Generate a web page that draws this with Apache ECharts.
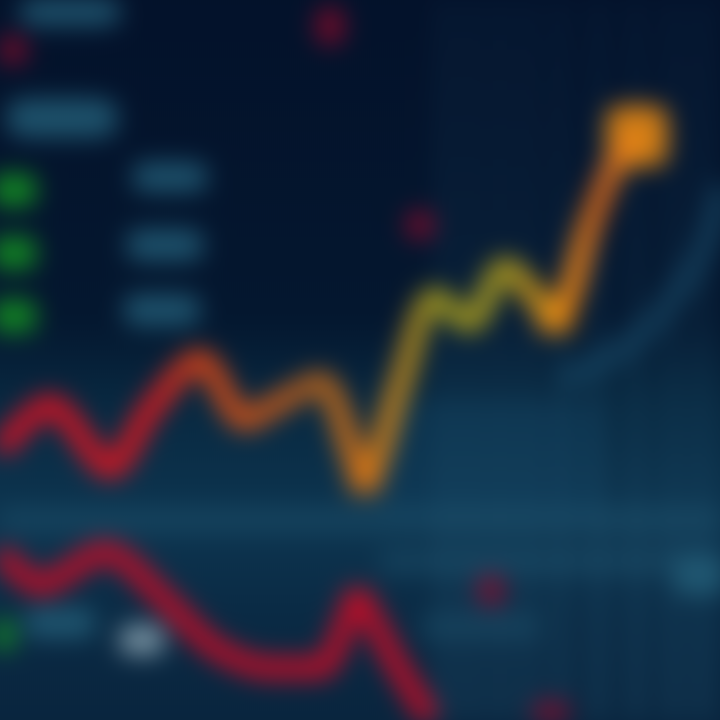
<!DOCTYPE html>
<html><head><meta charset="utf-8">
<script src="https://cdn.jsdelivr.net/npm/echarts@6/dist/echarts.min.js"></script>
<style>
html,body{margin:0;padding:0;background:#04142a;overflow:hidden;width:720px;height:720px;}
#c{position:absolute;left:-40px;top:-40px;width:800px;height:800px;filter:blur(12px);}
</style></head><body><div id="c"></div>
<script>
// Main price line
const priceX = [0, 50, 110, 150, 200, 245, 280, 320, 365, 400, 435, 470, 505, 555, 590, 612, 637];
const priceY = [450, 405, 468, 410, 360, 420, 402, 382, 478, 385, 298, 322, 268, 316, 225, 170, 136];
// Lower red line
const lowX = [0, 40, 105, 165, 215, 270, 320, 358, 395, 430];
const lowY = [552, 585, 552, 600, 648, 668, 668, 603, 662, 720];
// Faint teal curve (right)
const arcX = [725, 705, 675, 640, 600, 560];
const arcY = [185, 245, 295, 335, 362, 380];
// Volume-like vertical stripes on the right
const stripeX = [445, 472, 500, 528, 560, 598, 636, 672, 702];
const stripeH = [720, 720, 720, 720, 720, 720, 720, 720, 720];
// Faint horizontal bands: [x0, x1, y]
const bands = [[0, 720, 520], [380, 720, 562], [420, 540, 627]];
// Teal shaded zone under the rising part: [x0, x1, yTop, yBottom]
const zones = [[380, 600, 400, 520]];
// Label-like blobs: [x, y, w, h]
const tealBlobs = [[70, 12, 100, 28], [62, 118, 110, 40], [170, 177, 74, 30], [165, 245, 76, 32], [162, 310, 76, 32], [60, 623, 70, 30], [700, 575, 50, 40]];
const greenBlobs = [[14, 190, 44, 32], [14, 253, 44, 32], [14, 316, 44, 32], [4, 635, 20, 30]];
const redBlobs = [[13, 50, 30, 30], [330, 26, 30, 40], [420, 225, 30, 30], [491, 590, 28, 34], [551, 712, 40, 24]];
const whiteBlobs = [[142, 640, 44, 30]];
const glowX = [637, 555, 365, 358];
const glowY = [136, 316, 478, 603];
const glowSize = [62, 36, 32, 30];
const glowColor = ['#ff9410', '#f08c10', '#e07412', '#e0101e'];

const chart = echarts.init(document.getElementById('c'));
const G = echarts.graphic;
function blobs(list, color) {
  return list.map(b => ({value: [b[0], b[1]], symbolSize: [b[2], b[3]], itemStyle: {color}}));
}
chart.setOption({
  backgroundColor: new G.LinearGradient(0, 0, 0, 1, [
    {offset: 0, color: '#03112a'},
    {offset: 0.45, color: '#04172f'},
    {offset: 0.55, color: '#082840'},
    {offset: 0.7, color: '#0d3550'},
    {offset: 0.82, color: '#0a2a44'},
    {offset: 1, color: '#09233c'}
  ]),
  animation: false,
  grid: {left: 40, top: 40, width: 720, height: 720},
  xAxis: {type: 'value', min: 0, max: 720, show: false},
  yAxis: {type: 'value', min: 0, max: 720, inverse: true, show: false},
  series: [
    {type: 'bar', data: stripeX.map((x, i) => [x, stripeH[i]]), barWidth: 14, silent: true,
     itemStyle: {color: new G.LinearGradient(0, 0, 0, 1, [
       {offset: 0, color: 'rgba(30,80,110,0.15)'}, {offset: 1, color: 'rgba(40,95,125,0.35)'}])},
     markArea: {silent: true, itemStyle: {color: 'rgba(20,70,100,0.35)'},
       data: zones.map(z => [{coord: [z[0], z[2]]}, {coord: [z[1], z[3]]}])}},
    ...bands.map(b => ({type: 'line', data: [[b[0], b[2]], [b[1], b[2]]], symbol: 'none',
      lineStyle: {width: 26, color: 'rgba(30,85,110,0.45)'}})),
    {type: 'line', data: arcX.map((x, i) => [x, arcY[i]]), smooth: true, symbol: 'none',
     lineStyle: {width: 24, color: 'rgba(25,75,105,0.6)'}},
    {type: 'scatter', data: blobs(tealBlobs, '#24607a'), symbol: 'roundRect'},
    {type: 'scatter', data: blobs(greenBlobs, '#16a020'), symbol: 'roundRect'},
    {type: 'scatter', data: blobs(redBlobs, '#8a0a2a'), symbol: 'circle'},
    {type: 'scatter', data: blobs(whiteBlobs, '#8fa7b5'), symbol: 'roundRect'},
    {type: 'line', data: lowX.map((x, i) => [x, lowY[i]]), symbol: 'none', smooth: 0.3,
     lineStyle: {width: 22, color: '#b80e28'}},
    {type: 'line', data: priceX.map((x, i) => [x, priceY[i]]), symbol: 'none', smooth: 0.3,
     lineStyle: {width: 22, join: 'round', color: new G.LinearGradient(0, 0, 1, 0, [
       {offset: 0, color: '#cc1026'},
       {offset: 0.25, color: '#d01820'},
       {offset: 0.31, color: '#cc401a'},
       {offset: 0.385, color: '#c85018'},
       {offset: 0.5, color: '#a86020'},
       {offset: 0.573, color: '#d87414'},
       {offset: 0.62, color: '#b88020'},
       {offset: 0.675, color: '#959020'},
       {offset: 0.79, color: '#a09020'},
       {offset: 0.87, color: '#f08c10'},
       {offset: 0.93, color: '#c86020'},
       {offset: 1, color: '#ff9a10'}
     ])}},
    {type: 'scatter', data: glowX.map((x, i) => ({value: [x, glowY[i]], symbolSize: glowSize[i], itemStyle: {color: glowColor[i]}})),
     symbol: 'roundRect'}
  ]
});
</script></body></html>
